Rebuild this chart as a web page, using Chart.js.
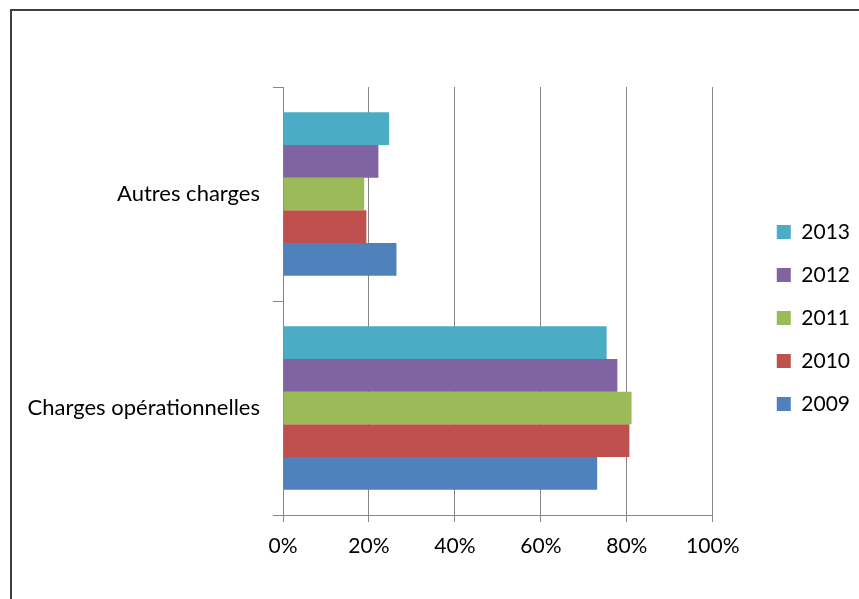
<!DOCTYPE html>
<html>
<head>
<meta charset="utf-8">
<script src="https://cdn.jsdelivr.net/npm/chart.js@4.4.1/dist/chart.umd.min.js"></script>
<style>
  html, body { margin: 0; padding: 0; background: #fff; overflow: hidden; }
  #frame {
    position: absolute; left: 10px; top: 9px; width: 900px; height: 700px;
    border-top: 2px solid #3f3f3f; border-left: 2px solid #3f3f3f;
  }
  #wrap { position: absolute; left: 0; top: 0; width: 859px; height: 599px; }
</style>
</head>
<body>
<div id="frame"></div>
<div id="wrap"><canvas id="bar-chart"></canvas></div>
<script>
const categories = ["Autres charges", "Charges opérationnelles"];
const years = ["2013", "2012", "2011", "2010", "2009"];
const values2013 = [24.7, 75.3];
const values2012 = [22.2, 77.8];
const values2011 = [18.9, 81.1];
const values2010 = [19.4, 80.6];
const values2009 = [26.4, 73.1];
const xTicks = [0, 20, 40, 60, 80, 100];

const seriesValues = [values2013, values2012, values2011, values2010, values2009];
const seriesColors = ["#4bacc6", "#8064a2", "#9bbb59", "#c0504d", "#4f81bd"];

const gridColor = "#868686";
const tickFont = { family: "Lato", size: 21 };
const catFont = { family: "Lato", size: 22 };

// push the legend away from the plot, keeping its row spacing
const legendShift = {
  id: "legendShift",
  afterLayout(chart) {
    const lg = chart.legend;
    const w = lg.right - lg.left;
    lg.left = chart.chartArea.right + 42;
    lg.right = lg.left + w;
    lg.top -= 8;
    lg.bottom -= 8;
  },
};

const ctx = document.getElementById("bar-chart").getContext("2d");
new Chart(ctx, {
  type: "bar",
  data: {
    labels: categories,
    datasets: years.map((year, i) => ({
      label: year,
      data: seriesValues[i],
      backgroundColor: seriesColors[i],
      borderWidth: 0,
      categoryPercentage: 0.765,
      barPercentage: 1,
    })),
  },
  options: {
    indexAxis: "y",
    responsive: true,
    maintainAspectRatio: false,
    animation: false,
    layout: {
      padding: { top: 87, bottom: 34, left: 0, right: 41 },
    },
    plugins: {
      tooltip: { enabled: false },
      legend: {
        position: "right",
        labels: {
          boxWidth: 14,
          boxHeight: 14,
          padding: 22,
          color: "#000",
          font: tickFont,
        },
      },
    },
    scales: {
      x: {
        min: 0,
        max: 100,
        afterBuildTicks: (scale) => {
          scale.ticks = xTicks.map((v) => ({ value: v }));
        },
        afterFit: (scale) => {
          scale.height = 50;
        },
        ticks: {
          color: "#000",
          font: tickFont,
          padding: 12,
          maxRotation: 0,
          callback: (v) => v + "%",
        },
        grid: {
          color: gridColor,
          lineWidth: 1,
          tickLength: 7,
        },
        border: { color: gridColor },
      },
      y: {
        afterFit: (scale) => {
          scale.width = 283;
        },
        ticks: {
          color: "#000",
          font: catFont,
          padding: 13,
        },
        grid: {
          drawOnChartArea: false,
          color: gridColor,
          tickLength: 10,
        },
        border: { color: gridColor },
      },
    },
  },
  plugins: [legendShift],
});
</script>
</body>
</html>
